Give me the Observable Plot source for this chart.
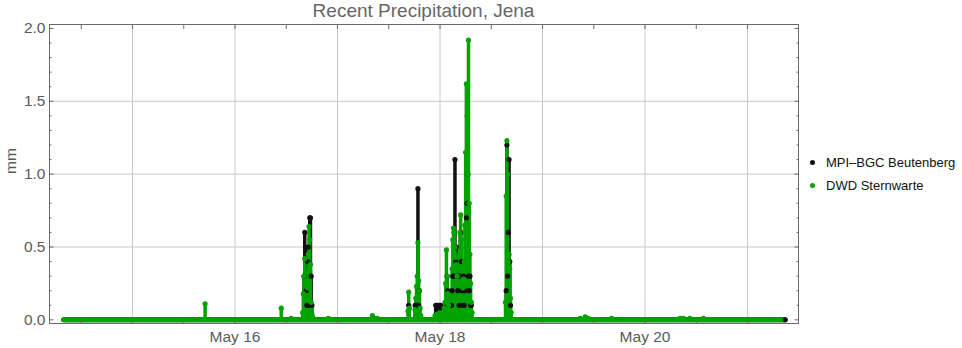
<!DOCTYPE html>
<html><head><meta charset="utf-8">
<script src="https://cdn.jsdelivr.net/npm/d3@7"></script>
<script src="https://cdn.jsdelivr.net/npm/@observablehq/plot@0.6"></script>
<style>
html,body{margin:0;padding:0;background:#fff;}
#wrap{position:relative;width:962px;height:348px;font-family:"Liberation Sans",Arial,sans-serif;overflow:hidden}
#title{position:absolute;left:49px;width:749px;top:0;text-align:center;font-size:19px;color:#666;line-height:22px;white-space:nowrap}
.leg{position:absolute;left:810px;font-size:13px;color:#111;display:flex;align-items:center;height:16px;white-space:nowrap}
.leg i{display:inline-block;width:5px;height:5px;border-radius:50%;margin-right:11px}
</style></head>
<body><div id="wrap"><div id="chart"></div>
<div id="title">Recent Precipitation, Jena</div>
<div class="leg" style="top:154px"><i style="background:#111"></i><span id="l1"></span></div>
<div class="leg" style="top:177px"><i style="background:#00a300"></i><span id="l2"></span></div>
</div>
<script>
const seriesNames = ["MPI–BGC Beutenberg", "DWD Sternwarte"];
const seriesColors = ["#111111", "#00a300"];

// first and last timestamp of each record (all other readings are 0 mm)
const mpiRecord = ["2024-05-14 08:00", "2024-05-21 08:50"];
const dwdRecord = ["2024-05-14 08:00", "2024-05-21 08:30"];

// non-zero 10-minute readings, MPI-BGC Beutenberg (mm)
const mpiTimes = [
 "2024-05-16 16:10","2024-05-16 16:20","2024-05-16 16:30","2024-05-16 16:40","2024-05-16 16:50","2024-05-16 17:00",
 "2024-05-16 17:10","2024-05-16 17:20","2024-05-16 17:30","2024-05-16 17:40","2024-05-16 17:50","2024-05-16 18:00",
 "2024-05-17 16:40","2024-05-17 18:10","2024-05-17 18:20","2024-05-17 18:30","2024-05-17 18:40","2024-05-17 18:50",
 "2024-05-17 19:00","2024-05-17 19:10",
 "2024-05-17 23:00","2024-05-17 23:10","2024-05-17 23:30","2024-05-17 23:50","2024-05-18 00:10",
 "2024-05-18 01:30","2024-05-18 01:40","2024-05-18 01:50","2024-05-18 02:40","2024-05-18 02:50","2024-05-18 03:00",
 "2024-05-18 03:10","2024-05-18 03:20","2024-05-18 03:30","2024-05-18 03:40","2024-05-18 03:50","2024-05-18 04:00",
 "2024-05-18 04:10","2024-05-18 04:20","2024-05-18 04:30","2024-05-18 04:40","2024-05-18 04:50","2024-05-18 05:00",
 "2024-05-18 05:10","2024-05-18 05:20","2024-05-18 05:30","2024-05-18 05:40","2024-05-18 05:50","2024-05-18 06:10",
 "2024-05-18 06:20","2024-05-18 06:30","2024-05-18 06:40","2024-05-18 06:50","2024-05-18 07:00","2024-05-18 07:10",
 "2024-05-18 07:20",
 "2024-05-18 15:30","2024-05-18 15:40","2024-05-18 15:50","2024-05-18 16:00","2024-05-18 16:10","2024-05-18 16:20",
 "2024-05-18 16:30"
];
const mpiValues = [
 0.3,0.6,0.5,0.2,0.1,0.4,
 0.5,0.1,0.7,0.7,0.3,0.1,
 0.1,0.1,0.1,0.1,0.1,0.9,
 0.1,0.2,
 0.1,0.1,0.1,0.1,0.1,
 0.1,0.3,0.2,0.1,0.2,0.3,
 0.3,0.6,1.1,0.4,0.5,0.3,
 0.2,0.3,0.1,0.3,0.6,0.4,
 0.2,0.1,0.3,0.1,0.2,0.7,
 0.8,1.0,0.3,0.2,0.3,0.1,
 0.1,
 0.2,1.2,0.3,0.6,1.1,0.4,
 0.1
];

// non-zero 10-minute readings, DWD Sternwarte (mm)
const dwdTimes = [
 "2024-05-15 17:00","2024-05-16 10:50","2024-05-16 13:10",
 "2024-05-16 15:50","2024-05-16 16:00","2024-05-16 16:10","2024-05-16 16:20","2024-05-16 16:30","2024-05-16 16:40",
 "2024-05-16 16:50","2024-05-16 17:00","2024-05-16 17:10","2024-05-16 17:20","2024-05-16 17:30","2024-05-16 17:40",
 "2024-05-16 17:50","2024-05-16 18:00","2024-05-16 18:10",
 "2024-05-16 21:50","2024-05-17 08:10","2024-05-17 08:40","2024-05-17 09:20",
 "2024-05-17 16:30","2024-05-17 16:40","2024-05-17 16:50","2024-05-17 18:10","2024-05-17 18:20","2024-05-17 18:30",
 "2024-05-17 18:40","2024-05-17 18:50","2024-05-17 19:00","2024-05-17 19:10","2024-05-17 19:20","2024-05-17 19:30",
 "2024-05-17 22:50","2024-05-17 23:20","2024-05-18 00:00","2024-05-18 00:30","2024-05-18 01:00","2024-05-18 01:10",
 "2024-05-18 01:20","2024-05-18 01:30","2024-05-18 01:40","2024-05-18 01:50","2024-05-18 02:00","2024-05-18 02:10",
 "2024-05-18 02:40","2024-05-18 02:50","2024-05-18 03:00","2024-05-18 03:10","2024-05-18 03:20","2024-05-18 03:30",
 "2024-05-18 03:40","2024-05-18 03:50","2024-05-18 04:00","2024-05-18 04:10","2024-05-18 04:20","2024-05-18 04:30",
 "2024-05-18 04:40","2024-05-18 04:50","2024-05-18 05:00","2024-05-18 05:10","2024-05-18 05:20","2024-05-18 05:30",
 "2024-05-18 05:40","2024-05-18 05:50","2024-05-18 06:00","2024-05-18 06:10","2024-05-18 06:20","2024-05-18 06:30",
 "2024-05-18 06:40","2024-05-18 06:50","2024-05-18 07:00","2024-05-18 07:10","2024-05-18 07:20","2024-05-18 07:30",
 "2024-05-18 15:20","2024-05-18 15:30","2024-05-18 15:40","2024-05-18 15:50","2024-05-18 16:00","2024-05-18 16:10",
 "2024-05-18 16:20","2024-05-18 16:30","2024-05-18 16:40",
 "2024-05-19 08:50","2024-05-19 10:00","2024-05-19 10:40","2024-05-19 16:10",
 "2024-05-20 08:10","2024-05-20 09:00","2024-05-20 10:30","2024-05-20 13:40"
];
const dwdValues = [
 0.11,0.08,0.01,
 0.05,0.18,0.30,0.42,0.25,0.15,
 0.33,0.22,0.45,0.64,0.55,0.38,
 0.12,0.04,0.02,
 0.01,0.03,0.01,0.01,
 0.06,0.19,0.08,0.07,0.15,0.23,
 0.30,0.53,0.27,0.20,0.08,0.03,
 0.03,0.04,0.05,0.03,0.08,0.12,
 0.25,0.48,0.30,0.18,0.10,0.05,
 0.15,0.35,0.55,0.63,0.60,0.50,
 0.43,0.38,0.30,0.25,0.35,0.45,
 0.60,0.72,0.55,0.35,0.22,0.28,
 0.40,0.65,1.15,1.62,1.40,1.00,
 1.92,0.80,0.45,0.25,0.12,0.05,
 0.12,0.85,1.23,1.00,0.40,0.45,
 0.35,0.15,0.05,
 0.01,0.02,0.01,0.01,
 0.01,0.01,0.01,0.01
];

const xDomain = ["2024-05-14 04:34", "2024-05-21 11:56"];
const yDomain = [-0.025, 2.027];
const xTickLabels = ["2024-05-16 00:00", "2024-05-18 00:00", "2024-05-20 00:00"];
const xGridDays = ["2024-05-15 00:00","2024-05-16 00:00","2024-05-17 00:00","2024-05-18 00:00","2024-05-19 00:00","2024-05-20 00:00","2024-05-21 00:00"];
const yTickLabels = [0, 0.5, 1, 1.5, 2];
const yGrid = [0.5, 1, 1.5];
const yMinorTicks = [0.1,0.2,0.3,0.4,0.6,0.7,0.8,0.9,1.1,1.2,1.3,1.4,1.6,1.7,1.8,1.9];
const yLabel = "mm";

document.getElementById("l1").textContent = seriesNames[0];
document.getElementById("l2").textContent = seriesNames[1];

const parse = d3.utcParse("%Y-%m-%d %H:%M");
const mpi = mpiTimes.map((t, i) => ({t: parse(t), v: mpiValues[i]}));
const dwd = dwdTimes.map((t, i) => ({t: parse(t), v: dwdValues[i]}));
const mpiSpan = [{a: parse(mpiRecord[0]), b: parse(mpiRecord[1])}];
const dwdSpan = [{a: parse(dwdRecord[0]), b: parse(dwdRecord[1])}];
const xd = xDomain.map(parse);
const halfDays = d3.utcHour.every(12).range(xd[0], xd[1]);
const blank = () => "";
const tickColor = "#6a6a6a";

const chart = Plot.plot({
  width: 962, height: 348,
  marginLeft: 49, marginRight: 164, marginTop: 24, marginBottom: 25,
  style: {fontFamily: "'Liberation Sans', Arial, sans-serif", fontSize: "15.5px", color: "#5a5a5a", background: "transparent"},
  x: {type: "utc", domain: xd},
  y: {domain: yDomain},
  marks: [
    Plot.ruleX(xGridDays.map(parse), {stroke: "#c8c8c8", strokeWidth: 1}),
    Plot.ruleY(yGrid, {stroke: "#c8c8c8", strokeWidth: 1}),
    // MPI below, DWD above
    Plot.ruleY(mpiSpan, {x1: "a", x2: "b", y: 0, stroke: seriesColors[0], strokeWidth: 5, strokeLinecap: "round"}),
    Plot.ruleX(mpi, {x: "t", y1: 0, y2: "v", stroke: seriesColors[0], strokeWidth: 3.5}),
    Plot.ruleY(dwdSpan, {x1: "a", x2: "b", y: 0, stroke: seriesColors[1], strokeWidth: 5, strokeLinecap: "round"}),
    Plot.ruleX(dwd, {x: "t", y1: 0, y2: "v", stroke: seriesColors[1], strokeWidth: 3.5}),
    Plot.dot(mpi, {x: "t", y: "v", r: 2.6, fill: seriesColors[0], stroke: "none"}),
    Plot.dot(dwd, {x: "t", y: "v", r: 2.6, fill: seriesColors[1], stroke: "none"}),
    Plot.dot(mpiSpan, {x: "b", y: 0, r: 2.6, fill: seriesColors[0], stroke: "none"}),
    Plot.frame({stroke: tickColor, strokeWidth: 1}),
    Plot.axisX(xTickLabels.map(parse), {anchor: "bottom", tickSize: 0, tickPadding: 7, tickFormat: d3.utcFormat("%b %-d"), label: null}),
    Plot.axisX(halfDays, {anchor: "bottom", tickSize: -4, tickFormat: blank, stroke: tickColor, label: null}),
    Plot.axisX(halfDays, {anchor: "top", tickSize: -4, tickFormat: blank, stroke: tickColor, label: null}),
    Plot.axisY(yTickLabels, {anchor: "left", tickSize: 0, tickPadding: 4, tickFormat: d3.format(".1f"), label: null}),
    Plot.axisY(yTickLabels, {anchor: "left", tickSize: -4.5, tickFormat: blank, stroke: tickColor, label: null}),
    Plot.axisY(yMinorTicks, {anchor: "left", tickSize: -2.5, tickFormat: blank, stroke: tickColor, label: null}),
    Plot.axisY(yTickLabels, {anchor: "right", tickSize: -4.5, tickFormat: blank, stroke: tickColor, label: null}),
    Plot.axisY(yMinorTicks, {anchor: "right", tickSize: -2.5, tickFormat: blank, stroke: tickColor, label: null}),
    Plot.text([yLabel], {text: d => d, frameAnchor: "left", dx: -38, rotate: -90, fontSize: 15.5, fill: "#5a5a5a"})
  ]
});
document.getElementById("chart").appendChild(chart);
</script>
</body></html>
